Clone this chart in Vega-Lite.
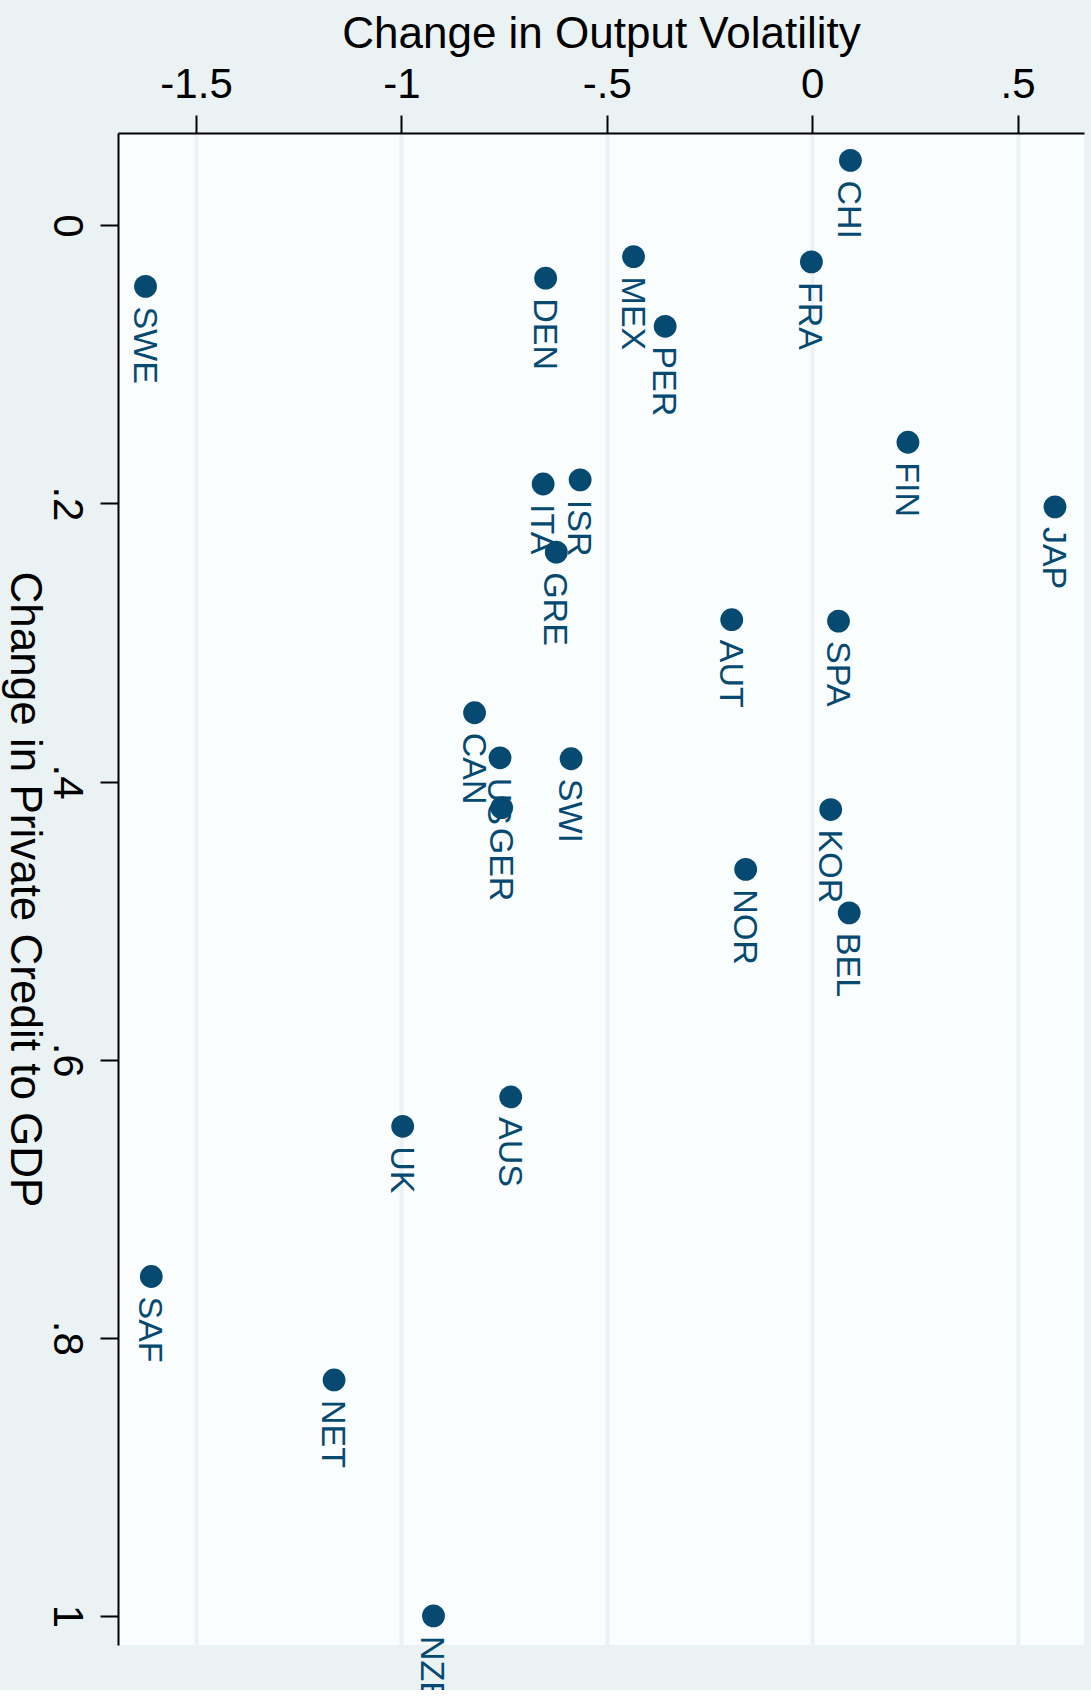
{
  "$schema": "https://vega.github.io/schema/vega-lite/v6.json",
  "width": 966,
  "height": 1512,
  "autosize": {"type": "none"},
  "padding": {"left": 118, "top": 133, "right": 7, "bottom": 45},
  "background": "#EAF2F3",
  "config": {
    "view": {"fill": "#FAFDFD", "stroke": null},
    "font": "Liberation Sans"
  },
  "data": {
    "values": [
      {"country": "CHI", "vol": 0.093, "credit": -0.0467},
      {"country": "FRA", "vol": -0.002, "credit": 0.0263},
      {"country": "MEX", "vol": -0.435, "credit": 0.0225},
      {"country": "SWE", "vol": -1.623, "credit": 0.0439},
      {"country": "DEN", "vol": -0.649, "credit": 0.038},
      {"country": "PER", "vol": -0.358, "credit": 0.0726},
      {"country": "FIN", "vol": 0.233, "credit": 0.156},
      {"country": "JAP", "vol": 0.591, "credit": 0.2025},
      {"country": "ISR", "vol": -0.565, "credit": 0.183},
      {"country": "ITA", "vol": -0.655, "credit": 0.186},
      {"country": "GRE", "vol": -0.623, "credit": 0.235},
      {"country": "AUT", "vol": -0.196, "credit": 0.2836},
      {"country": "SPA", "vol": 0.064, "credit": 0.2846},
      {"country": "CAN", "vol": -0.822, "credit": 0.3505},
      {"country": "US", "vol": -0.760, "credit": 0.3829},
      {"country": "SWI", "vol": -0.587, "credit": 0.3836},
      {"country": "GER", "vol": -0.756, "credit": 0.4188},
      {"country": "KOR", "vol": 0.045, "credit": 0.4201},
      {"country": "NOR", "vol": -0.162, "credit": 0.4631},
      {"country": "BEL", "vol": 0.090, "credit": 0.4944},
      {"country": "AUS", "vol": -0.734, "credit": 0.6268},
      {"country": "UK", "vol": -0.997, "credit": 0.6479},
      {"country": "SAF", "vol": -1.609, "credit": 0.7559},
      {"country": "NET", "vol": -1.164, "credit": 0.8303},
      {"country": "NZE", "vol": -0.922, "credit": 1.0}
    ]
  },
  "encoding": {
    "x": {
      "field": "vol",
      "type": "quantitative",
      "scale": {"domain": [-1.69, 0.6616], "nice": false, "zero": false},
      "axis": {
        "orient": "top",
        "title": "Change in Output Volatility",
        "values": [-1.5, -1, -0.5, 0, 0.5],
        "labelExpr": "replace(replace(format(datum.value, '~g'), '\u2212', '-'), '0.', '.')",
        "grid": true,
        "gridColor": "#EAF2F3",
        "gridWidth": 4,
        "domainColor": "#000000",
        "domainWidth": 2,
        "tickColor": "#000000",
        "tickWidth": 2,
        "tickSize": 18,
        "labelFontSize": 42,
        "labelColor": "#000000",
        "labelPadding": 9,
        "labelFlush": false,
        "labelOverlap": false,
        "titleFontSize": 44,
        "titleFontWeight": "normal",
        "titleColor": "#000000",
        "titlePadding": 7
      }
    },
    "y": {
      "field": "credit",
      "type": "quantitative",
      "scale": {"domain": [-0.0664, 1.0209], "nice": false, "zero": false, "reverse": true},
      "axis": {
        "orient": "left",
        "title": "Change in Private Credit to GDP",
        "values": [0, 0.2, 0.4, 0.6, 0.8, 1],
        "labelExpr": "replace(format(datum.value, '~g'), '0.', '.')",
        "grid": false,
        "domainColor": "#000000",
        "domainWidth": 2,
        "tickColor": "#000000",
        "tickWidth": 2,
        "tickSize": 18,
        "labelFontSize": 42,
        "labelColor": "#000000",
        "labelAngle": 90,
        "labelAlign": "center",
        "labelBaseline": "top",
        "labelPadding": 14,
        "labelFlush": false,
        "labelOverlap": false,
        "titleFontSize": 44,
        "titleFontWeight": "normal",
        "titleColor": "#000000",
        "titleAngle": 90,
        "titleBaseline": "top",
        "titlePadding": 0
      }
    }
  },
  "layer": [
    {
      "mark": {
        "type": "text",
        "angle": 90,
        "align": "left",
        "baseline": "middle",
        "dx": 20,
        "dy": 2,
        "fontSize": 34,
        "color": "#064A71"
      },
      "encoding": {"text": {"field": "country"}}
    },
    {
      "mark": {"type": "circle", "size": 520, "color": "#064A71", "opacity": 1}
    }
  ]
}
